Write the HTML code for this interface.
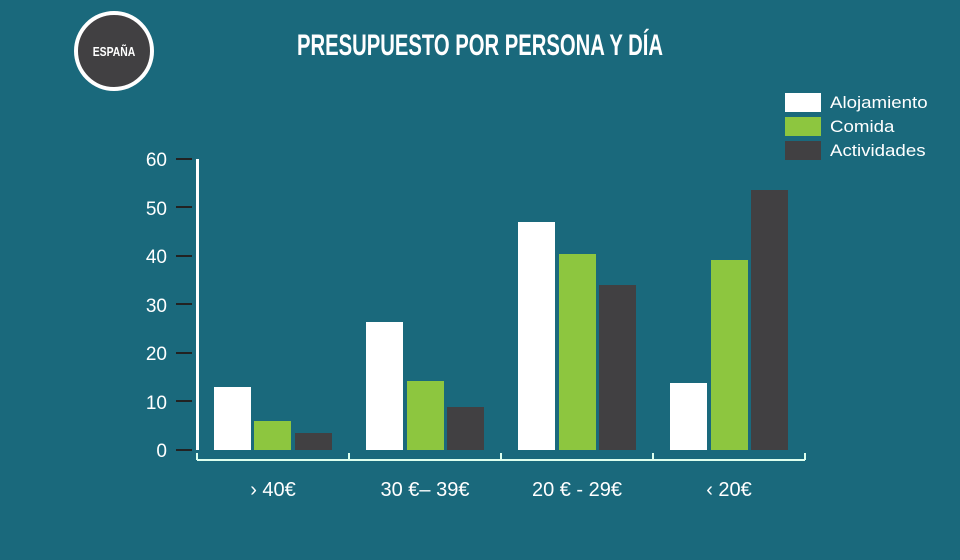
<!DOCTYPE html>
<html><head><meta charset="utf-8"><style>
body{margin:0;width:960px;height:560px;background:#1a697c;overflow:hidden}
svg{display:block}
</style></head><body>
<svg width="960" height="560" xmlns="http://www.w3.org/2000/svg" font-family="Liberation Sans, sans-serif">
<rect width="960" height="560" fill="#1a697c"/>
<circle cx="114" cy="51" r="38" fill="#414042" stroke="#fff" stroke-width="4"/>
<text x="114" y="56" fill="#fff" font-size="13" font-weight="bold" text-anchor="middle" transform="translate(114,0) scale(0.8,1) translate(-114,0)">ESPAÑA</text>
<text x="480" y="55" fill="#fff" font-size="30" font-weight="bold" text-anchor="middle" transform="translate(480,0) scale(0.675,1) translate(-480,0)">PRESUPUESTO POR PERSONA Y DÍA</text>
<rect x="785" y="93" width="36" height="19" fill="#fff"/>
<rect x="785" y="117" width="36" height="19" fill="#8dc63f"/>
<rect x="785" y="141" width="36" height="19" fill="#414042"/>
<g fill="#fff" font-size="17" transform="translate(830,0) scale(1.1,1) translate(-830,0)"><text x="830" y="108">Alojamiento</text><text x="830" y="132">Comida</text><text x="830" y="156">Actividades</text></g>
<g fill="#fff" font-size="19" text-anchor="end">
<text x="167" y="166">60</text><text x="167" y="215">50</text><text x="167" y="263">40</text><text x="167" y="312">30</text><text x="167" y="360">20</text><text x="167" y="409">10</text><text x="167" y="457">0</text></g>
<g stroke="#222" stroke-width="2">
<line x1="176" y1="159" x2="192" y2="159"/><line x1="176" y1="207" x2="192" y2="207"/><line x1="176" y1="256" x2="192" y2="256"/><line x1="176" y1="304" x2="192" y2="304"/><line x1="176" y1="353" x2="192" y2="353"/><line x1="176" y1="401" x2="192" y2="401"/><line x1="176" y1="450" x2="192" y2="450"/></g>
<line x1="197.5" y1="159" x2="197.5" y2="450" stroke="#fff" stroke-width="3"/>
<g stroke="#dfe" stroke-width="2"><line x1="197" y1="460" x2="805" y2="460"/>
<line x1="197" y1="453" x2="197" y2="460"/><line x1="349" y1="453" x2="349" y2="460"/><line x1="501" y1="453" x2="501" y2="460"/><line x1="653" y1="453" x2="653" y2="460"/><line x1="805" y1="453" x2="805" y2="460"/></g>
<g fill="#fff"><rect x="214" y="387" width="37" height="63"/><rect x="366" y="322" width="37" height="128"/><rect x="518" y="222" width="37" height="228"/><rect x="670" y="383" width="37" height="67"/></g>
<g fill="#8dc63f"><rect x="254" y="421" width="37" height="29"/><rect x="407" y="381" width="37" height="69"/><rect x="559" y="254" width="37" height="196"/><rect x="711" y="260" width="37" height="190"/></g>
<g fill="#414042"><rect x="295" y="433" width="37" height="17"/><rect x="447" y="407" width="37" height="43"/><rect x="599" y="285" width="37" height="165"/><rect x="751" y="190" width="37" height="260"/></g>
<g fill="#fff" font-size="20" text-anchor="middle">
<text x="273" y="496">› 40€</text><text x="425" y="496">30 €– 39€</text><text x="577" y="496">20 € - 29€</text><text x="729" y="496">‹ 20€</text></g>
</svg>
</body></html>
